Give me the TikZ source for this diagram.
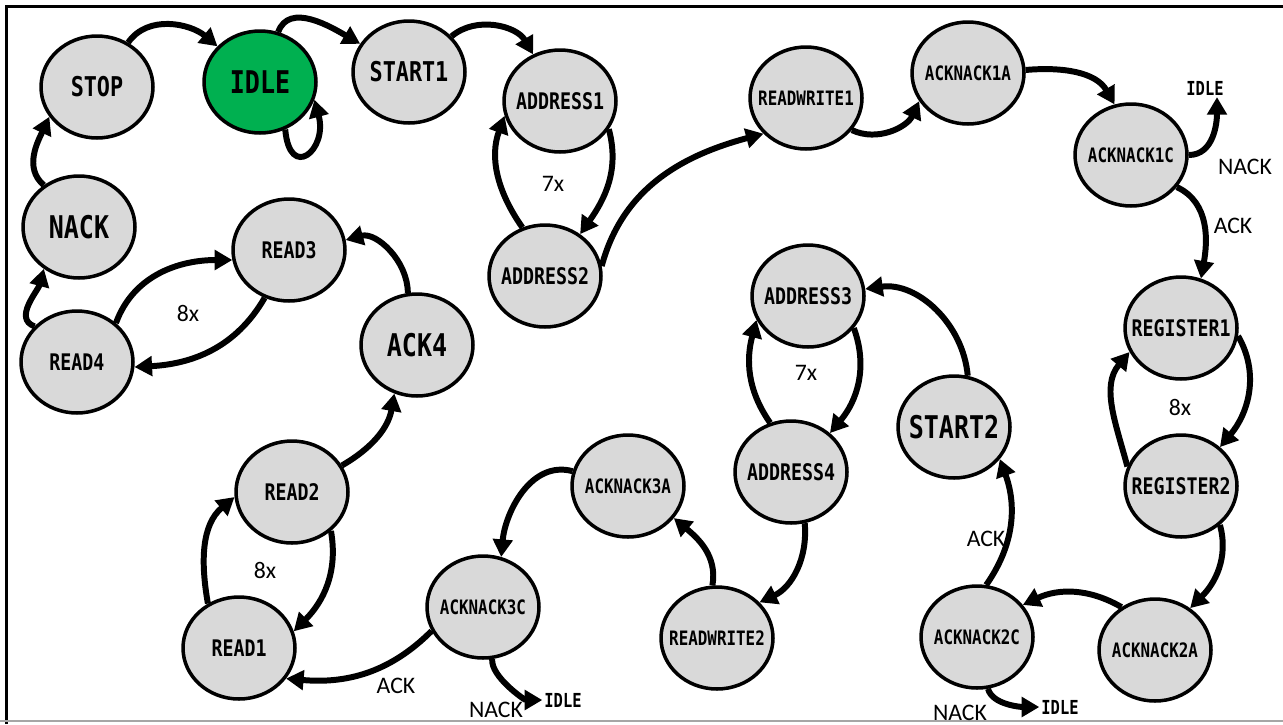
\documentclass[tikz,border=0pt]{standalone}
\usepackage{fontspec}
\setmainfont{Carlito}
\newfontfamily\statefont[FakeStretch=0.8]{DejaVu Sans Mono}
\usetikzlibrary{shapes.geometric}
\usetikzlibrary{arrows.meta}
\definecolor{stategray}{HTML}{D9D9D9}
\definecolor{idlegreen}{HTML}{00B050}
\tikzset{
x=0.02cm,y=0.02cm, % one unit = one pixel of the layout
>={Triangle[length=10pt,width=11pt]},
my state/.style={draw,ellipse,line width=2pt,fill=stategray,inner sep=-0.6cm,
  minimum width=2.24cm,minimum height=2.04cm},
huge/.style={my state,font=\statefont\bfseries\fontsize{17.8}{19}\selectfont},
big/.style={my state,font=\statefont\bfseries\fontsize{15.5}{17}\selectfont},
mid/.style={my state,font=\statefont\bfseries\fontsize{13}{15}\selectfont},
small/.style={my state,font=\statefont\bfseries\fontsize{11.3}{13}\selectfont},
idle text/.style={inner sep=1pt,font=\statefont\bfseries\fontsize{11}{13}\selectfont},
edge text/.style={inner sep=0pt,font=\fontsize{13.5}{15}\selectfont},
trans/.style={line width=3.4pt}
}
\begin{document}
\begin{tikzpicture}
\useasboundingbox (0,0) rectangle (1283,-724);
\draw[line width=1.7pt] (6.5,-724) -- (6.5,-6.5) -- (1283,-6.5);
\draw[line width=1.2pt,black!35] (0,-721) -- (1283,-721);

% states
\node[big]                  (stop)   at (97,-87)   {STOP};
\node[huge,fill=idlegreen]  (idle)   at (260,-82)  {IDLE};
\node[big]                  (start1) at (409,-72)  {START1};
\node[mid]                  (addr1)  at (560,-101) {ADDRESS1};
\node[mid]                  (addr2)  at (545,-276) {ADDRESS2};
\node[small]                (rw1)    at (806,-98)  {READWRITE1};
\node[small]                (an1a)   at (968,-73)  {ACKNACK1A};
\node[small]                (an1c)   at (1131,-155){ACKNACK1C};
\node[mid]                  (reg1)   at (1181,-328){REGISTER1};
\node[mid]                  (reg2)   at (1181,-486){REGISTER2};
\node[small]                (an2a)   at (1155,-650){ACKNACK2A};
\node[small]                (an2c)   at (977,-637) {ACKNACK2C};
\node[huge]                 (start2) at (954,-427) {START2};
\node[mid]                  (addr3)  at (808,-296) {ADDRESS3};
\node[mid]                  (addr4)  at (791,-472) {ADDRESS4};
\node[small]                (rw2)    at (717,-638) {READWRITE2};
\node[small]                (an3a)   at (628,-486) {ACKNACK3A};
\node[small]                (an3c)   at (483,-607) {ACKNACK3C};
\node[mid]                  (read1)  at (239,-648) {READ1};
\node[mid]                  (read2)  at (292,-492) {READ2};
\node[huge]                 (ack4)   at (417,-345) {ACK4};
\node[mid]                  (read3)  at (289,-250) {READ3};
\node[mid]                  (read4)  at (77,-362)  {READ4};
\node[huge]                 (nack)   at (79,-227)  {NACK};

% way back to IDLE
\node[idle text] (i1) at (1205,-88)  {IDLE};
\node[idle text] (i2) at (1060,-707) {IDLE};
\node[idle text] (i3) at (563,-700)  {IDLE};

% counts and answers
\node[edge text] (n1) at (553,-184)  {7x};
\node[edge text] (n2) at (188,-313)  {8x};
\node[edge text] (n3) at (806,-373)  {7x};
\node[edge text] (n4) at (1180,-407) {8x};
\node[edge text] (n5) at (265,-570)  {8x};
\node[edge text] (a1) at (1233,-226) {ACK};
\node[edge text] (k1) at (1245,-167) {NACK};
\node[edge text] (a2) at (986,-539)  {ACK};
\node[edge text] (k2) at (960,-713)  {NACK};
\node[edge text] (a3) at (396,-686)  {ACK};
\node[edge text] (k3) at (496,-710)  {NACK};

\path[->,trans]
  (stop)        edge[out=55,in=140]   (idle)
  (idle)        edge[out=70,in=150]   (start1)
  (idle.-62)    edge[out=-85,in=-75,looseness=3.2] (idle.-18)
  (start1)      edge[out=40,in=120]   (addr1)
  (addr1.-30)   edge[out=-75,in=55]   (addr2.50)
  (addr2.115)   edge[out=125,in=-110] (addr1.-165)
  (addr2.10)    edge[out=75,in=195]   (rw1.-140)
  (rw1.-35)     edge[out=-25,in=-115] (an1a.-150)
  (an1a.3)      edge[out=5,in=120]    (an1c.108)
  (an1c.0)      edge[out=0,in=-90]    ([xshift=0.24cm]i1.south)
  (an1c.-35)    edge[out=-25,in=80]   (reg1.68)
  (reg1.-8)     edge[out=-60,in=50]   (reg2.45)
  (reg2.160)    edge[out=105,in=-130] (reg1.-155)
  (reg2.-45)    edge[out=-75,in=45]   (an2a.50)
  (an2a.128)    edge[out=150,in=25]   (an2c.35)
  (an2c.80)     edge[out=55,in=-70]   (start2.-35)
  (an2c.-78)    edge[out=-75,in=180,looseness=0.8] (i2.west)
  (start2.75)   edge[out=95,in=8]     (addr3.7)
  (addr3.-35)   edge[out=-70,in=50]   (addr4.45)
  (addr4.113)   edge[out=125,in=-105] (addr3.-155)
  (addr4.-75)   edge[out=-85,in=25]   (rw2.40)
  (rw2.95)      edge[out=80,in=-40]   (an3a.-35)
  (an3a.165)    edge[out=165,in=85]   (an3c.70)
  (an3c.-155)   edge[out=-135,in=-5]  (read1.-33)
  (an3c.-80)    edge[out=-95,in=180,looseness=0.7] (i3.west)
  (read2.-45)   edge[out=-80,in=45]   (read1.17)
  (read1.125)   edge[out=100,in=-140] (read2.185)
  (read2.28)    edge[out=30,in=-100]  (ack4.-115)
  (ack4.100)    edge[out=90,in=15]    (read3.10)
  (read3.-117)  edge[out=-120,in=3]   (read4.-5)
  (read4.45)    edge[out=70,in=180]   (read3.-170)
  (read4.140)   edge[out=160,in=-105] (nack.-130)
  (nack.130)    edge[out=140,in=-115] (stop.-148);
\end{tikzpicture}
\end{document}
